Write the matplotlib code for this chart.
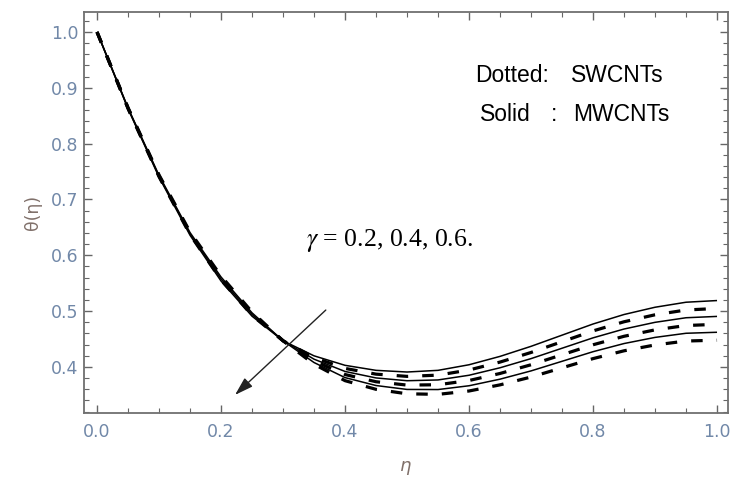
import matplotlib
matplotlib.use("Agg")
import matplotlib.pyplot as plt
from matplotlib.ticker import MultipleLocator, FormatStrFormatter

plt.rcParams["mathtext.fontset"] = "stix"

# ---- data ----
eta = [0.00, 0.05, 0.10, 0.15, 0.20, 0.25, 0.30, 0.35, 0.40, 0.45, 0.50,
       0.55, 0.60, 0.65, 0.70, 0.75, 0.80, 0.85, 0.90, 0.95, 1.00]

# MWCNTs (solid)
mw_g02 = [1.000, 0.8625, 0.740, 0.636, 0.554, 0.491, 0.447, 0.420, 0.403, 0.394, 0.391,
          0.394, 0.404, 0.419, 0.437, 0.457, 0.477, 0.494, 0.507, 0.516, 0.519]
mw_g04 = [1.000, 0.8633, 0.7416, 0.6384, 0.5576, 0.494, 0.447, 0.414, 0.392, 0.3804, 0.3754,
          0.3768, 0.3852, 0.3986, 0.415, 0.4336, 0.4522, 0.468, 0.480, 0.4882, 0.4906]
mw_g06 = [1.000, 0.8641, 0.7432, 0.6408, 0.5612, 0.497, 0.447, 0.408, 0.381, 0.3668, 0.3598,
          0.3596, 0.3664, 0.3782, 0.393, 0.4102, 0.4274, 0.442, 0.453, 0.4604, 0.4622]
# SWCNTs (dotted / dashed)
sw_g02 = [1.000, 0.8629, 0.7408, 0.6372, 0.5558, 0.4925, 0.447, 0.417, 0.3975, 0.3872, 0.3832,
          0.3854, 0.3946, 0.4088, 0.426, 0.4453, 0.4646, 0.481, 0.4935, 0.5021, 0.5048]
sw_g04 = [1.000, 0.8637, 0.7424, 0.6396, 0.5594, 0.4955, 0.447, 0.411, 0.3865, 0.3736, 0.3676,
          0.3682, 0.3758, 0.3884, 0.404, 0.4219, 0.4398, 0.455, 0.4665, 0.4743, 0.4764]
sw_g06 = [1.000, 0.8645, 0.744, 0.642, 0.563, 0.4985, 0.447, 0.405, 0.3755, 0.360, 0.352,
          0.351, 0.357, 0.368, 0.382, 0.3985, 0.415, 0.429, 0.4395, 0.4465, 0.448]

mw_series = [mw_g02, mw_g04, mw_g06]
sw_series = [sw_g02, sw_g04, sw_g06]

x_ticks = [0.0, 0.2, 0.4, 0.6, 0.8, 1.0]
y_ticks = [0.4, 0.5, 0.6, 0.7, 0.8, 0.9, 1.0]

# ---- figure ----
W, H = 730, 480
fig = plt.figure(figsize=(W / 100, H / 100), dpi=100)
L, R, T, B = 84, 728, 12, 413
ax = fig.add_axes([L / W, (H - B) / H, (R - L) / W, (B - T) / H])

for s in mw_series:
    ax.plot(eta, s, color="black", lw=1.1, solid_capstyle="butt")
for s in sw_series:
    ax.plot(eta, s, color="black", lw=2.3, linestyle=(0, (3.6, 4.4)),
            dash_capstyle="butt")

ax.set_xlim(-0.021, 1.0177)
ax.set_ylim(0.3176, 1.0358)

ax.set_xticks(x_ticks)
ax.set_yticks(y_ticks)
ax.xaxis.set_minor_locator(MultipleLocator(0.05))
ax.yaxis.set_minor_locator(MultipleLocator(0.02))
ax.xaxis.set_major_formatter(FormatStrFormatter("%.1f"))
ax.yaxis.set_major_formatter(FormatStrFormatter("%.1f"))

tick_lab_col = "#7188a8"
ax.tick_params(which="both", direction="in", top=True, right=True,
               color="#666666", labelcolor=tick_lab_col, labelsize=12.5)
ax.tick_params(which="major", length=6, width=1.0)
ax.tick_params(which="minor", length=3.5, width=0.8)
ax.tick_params(axis="x", which="major", pad=7)
ax.tick_params(axis="y", which="major", pad=4)
ax.tick_params(labelright=False, labeltop=False)
for sp in ax.spines.values():
    sp.set_color("#707070")
    sp.set_linewidth(1.3)

ax.set_xlabel("η", fontsize=13, color="#80706a", style="italic", labelpad=12)
ax.set_ylabel("θ(η)", fontsize=12.5, color="#80706a", labelpad=6)

def axfrac(px, py):
    return ((px - L) / (R - L), (B - py) / (B - T))

# legend-like texts
tfont = dict(fontsize=16.5, color="black", family="Liberation Sans",
             transform=ax.transAxes, va="center")
ax.text(*axfrac(475, 76), "Dotted:", ha="left", **tfont)
ax.text(*axfrac(571, 76), "SWCNTs", ha="left", **tfont)
ax.text(*axfrac(480, 115), "Solid", ha="left", **tfont)
ax.text(*axfrac(551, 115), ":", ha="left", **tfont)
ax.text(*axfrac(573, 115), "MWCNTs", ha="left", **tfont)

ax.text(*axfrac(306, 246), r"$\gamma$ = 0.2, 0.4, 0.6.", transform=ax.transAxes,
        ha="left", va="baseline", fontsize=18.5, family="Liberation Serif",
        color="black")

# arrow showing increasing gamma
ax.annotate("", xy=(0.2226, 0.350), xytext=(0.369, 0.502),
            arrowprops=dict(arrowstyle="-|>,head_length=0.8,head_width=0.25",
                            color="#222222", lw=1.0, mutation_scale=14,
                            shrinkA=0, shrinkB=0))

fig.savefig("out.png", dpi=100)
